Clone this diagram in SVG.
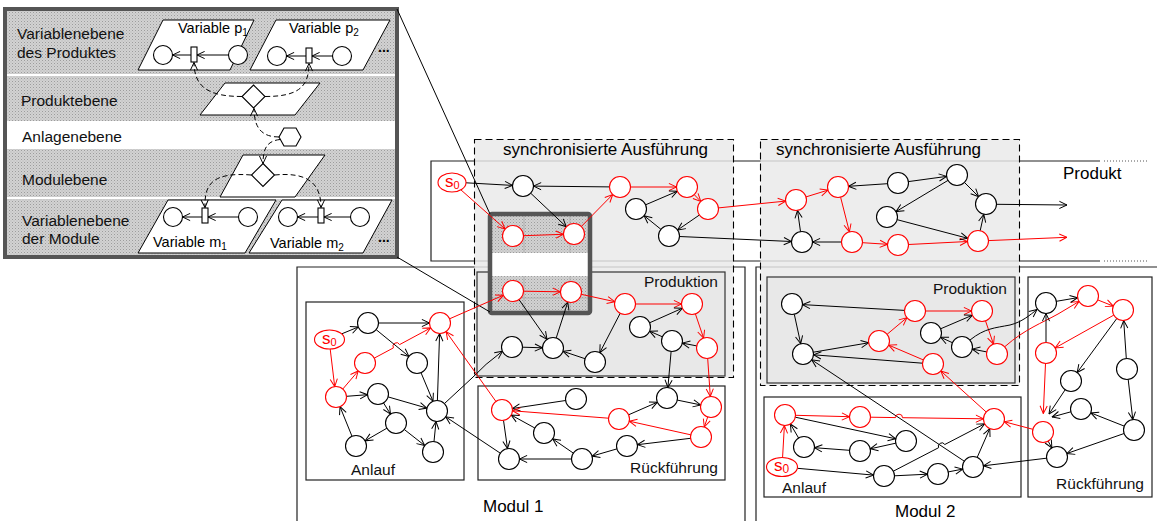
<svg xmlns="http://www.w3.org/2000/svg" width="1157" height="521" viewBox="0 0 1157 521">
<defs>
<style>
.k{fill:#fff;stroke:#000;stroke-width:1.1}
.r{fill:#fff;stroke:#f00;stroke-width:1.1}
.ek{fill:none;stroke:#000;stroke-width:1;marker-end:url(#ak)}
.er{fill:none;stroke:#f00;stroke-width:1;marker-end:url(#ar)}
.ed{fill:none;stroke:#000;stroke-width:1;stroke-dasharray:5,3;marker-end:url(#ak)}
.box{fill:#fff;stroke:#222;stroke-width:1.2}
.prod{fill:#e8e8e8;stroke:#333;stroke-width:1.2}
.sync{fill:#e9e9e9;fill-opacity:0.82;stroke:#000;stroke-width:1.1;stroke-dasharray:7,4}
.line{fill:none;stroke:#222;stroke-width:1.2}
.lbl{font-family:"Liberation Sans",Arial,sans-serif;font-size:15.5px;fill:#111}
.big{font-family:"Liberation Sans",Arial,sans-serif;font-size:17px;fill:#000}
.sm{font-family:"Liberation Sans",Arial,sans-serif;font-size:14.5px;fill:#000}
.s0{font-family:"Liberation Sans",Arial,sans-serif;font-size:17px;fill:#f00}
.para{fill:#fff;stroke:#000;stroke-width:1}
</style>
<marker id="ak" viewBox="0 0 10 10" refX="9.5" refY="5" markerWidth="9" markerHeight="9" orient="auto" markerUnits="userSpaceOnUse"><path d="M1,1 L9.5,5 L1,9" fill="none" stroke="#000" stroke-width="1.1"/></marker>
<marker id="ar" viewBox="0 0 10 10" refX="9.5" refY="5" markerWidth="9" markerHeight="9" orient="auto" markerUnits="userSpaceOnUse"><path d="M1,1 L9.5,5 L1,9" fill="none" stroke="#f00" stroke-width="1.1"/></marker>
<pattern id="dots" width="3" height="3" patternUnits="userSpaceOnUse"><rect width="3" height="3" fill="#d2d2d2"/><rect width="1" height="1" fill="#9c9c9c"/><rect x="1.5" y="1.5" width="1" height="1" fill="#b5b5b5"/></pattern>
</defs>

<!-- inset legend -->
<g id="inset">
<rect x="5" y="9" width="392" height="248" fill="url(#dots)"/>
<rect x="7" y="74" width="388" height="2" fill="#fff"/>
<rect x="7" y="121" width="388" height="28" fill="#fff"/>
<rect x="7" y="197" width="388" height="2" fill="#fff"/>
<text class="lbl" x="17" y="39">Variablenebene</text>
<text class="lbl" x="17" y="58">des Produktes</text>
<text class="lbl" x="21" y="106">Produktebene</text>
<text class="lbl" x="22" y="142">Anlagenebene</text>
<text class="lbl" x="22" y="185">Modulebene</text>
<text class="lbl" x="22" y="226">Variablenebene</text>
<text class="lbl" x="22" y="244">der Module</text>
<g id="var-p1">
<polygon class="para" points="163,20 254,20 230,70 138,70"/>
<text class="sm" x="178" y="33">Variable p<tspan font-size="10" dy="3">1</tspan></text>
<circle class="k" cx="163" cy="55" r="9.5"/>
<rect class="k" x="191" y="47" width="6" height="15"/>
<circle class="k" cx="238" cy="55" r="9.5"/>
<path class="ek" d="M228.5,55 L197,55"/>
<path class="ek" d="M191,55 L172.5,55"/>
</g>
<g id="var-p2">
<polygon class="para" points="276,20 390,20 363,70 250,70"/>
<text class="sm" x="289" y="33">Variable p<tspan font-size="10" dy="3">2</tspan></text>
<circle class="k" cx="277" cy="56" r="9.5"/>
<rect class="k" x="306" y="48" width="6" height="15"/>
<circle class="k" cx="342" cy="56" r="9.5"/>
<path class="ek" d="M332.5,56 L312,56"/>
<path class="ek" d="M306,56 L286.5,56"/>
</g>
<text x="378" y="51.5" font-family="Liberation Sans, Arial, sans-serif" font-size="14" font-weight="bold">...</text>
<g id="produktebene">
<polygon class="para" points="225,83 320,83 295,115 200,115"/>
<polygon class="k" points="253.5,85 265,96.5 253.5,108 242,96.5"/>
</g>
<g id="anlage">
<polygon class="k" points="284,128 296,128 301,137 296,146 284,146 279,137"/>
</g>
<g id="modulebene">
<polygon class="para" points="243,155 325,155 295,197 220,197"/>
<polygon class="k" points="263,163.5 274.5,175 263,186.5 251.5,175"/>
</g>
<g id="var-m1">
<polygon class="para" points="168,200 276,200 245,253 138,253"/>
<circle class="k" cx="173" cy="217" r="9.5"/>
<rect class="k" x="202" y="208" width="6" height="15"/>
<circle class="k" cx="248" cy="217" r="9.5"/>
<path class="ek" d="M238.5,217 L208,217"/>
<path class="ek" d="M202,217 L182.5,217"/>
<text class="sm" x="153" y="247">Variable m<tspan font-size="10" dy="3">1</tspan></text>
</g>
<g id="var-m2">
<polygon class="para" points="282,200 392,200 363,253 249,253"/>
<circle class="k" cx="288" cy="217" r="9.5"/>
<rect class="k" x="318" y="208" width="6" height="15"/>
<circle class="k" cx="360" cy="217" r="9.5"/>
<path class="ek" d="M350.5,217 L324,217"/>
<path class="ek" d="M318,217 L297.5,217"/>
<text class="sm" x="270" y="248">Variable m<tspan font-size="10" dy="3">2</tspan></text>
</g>
<text x="378" y="241.5" font-family="Liberation Sans, Arial, sans-serif" font-size="14" font-weight="bold">...</text>
<g id="inset-links">
<path class="ed" d="M242,96.5 C210,96.5 194,88 194,62.5"/>
<path class="ed" d="M265,96.5 C297,96.5 309,88 309,63.5"/>
<path class="ed" d="M279,137 C262,137 254,128 254,108.5"/>
<path class="ed" d="M280,139.5 C266,141 263,150 263,163.5"/>
<path class="ed" d="M251.5,175 C214,172 204,183 205,207.5"/>
<path class="ed" d="M274.5,175 C306,172 321,182 321,207.5"/>
</g>
<rect x="5" y="9" width="392" height="248" fill="none" stroke="#555" stroke-width="4"/>
</g>

<!-- frames -->
<g id="frames">
<path class="line" d="M1100,161 L431,161 L431,261 L1100,261"/>
<path d="M1104,161 H1147 M1104,261 H1147" stroke="#555" stroke-width="1" stroke-dasharray="1,2"/>
<text class="big" x="1063" y="179">Produkt</text>
<path class="line" d="M297,521 L297,267 L745,267 L745,521"/>
<path class="line" d="M756,521 L756,267 L1157,267"/>
<text class="big" x="483" y="512">Modul 1</text>
<text class="big" x="895" y="517">Modul 2</text>
</g>

<g id="sync1"><rect class="sync" x="474.5" y="139.5" width="259" height="238"/>
<text class="big" x="503" y="155">synchronisierte Ausführung</text></g>
<g id="sync2"><rect class="sync" x="760.5" y="139.5" width="259" height="246"/>
<text class="big" x="776" y="155">synchronisierte Ausführung</text></g>

<g id="produktion1"><rect class="prod" x="477" y="272" width="248" height="104"/>
<text class="lbl" x="718" y="287" text-anchor="end">Produktion</text></g>
<g id="produktion2"><rect class="prod" x="767" y="277" width="248" height="106"/>
<text class="lbl" x="1007" y="294" text-anchor="end">Produktion</text></g>
<g id="anlauf1"><rect class="box" x="306" y="302" width="158" height="178"/>
<text class="lbl" x="351" y="475">Anlauf</text></g>
<g id="rueck1"><rect class="box" x="478" y="386" width="247" height="94"/>
<text class="lbl" x="718" y="473" text-anchor="end">Rückführung</text></g>
<g id="anlauf2"><rect class="box" x="764" y="397" width="257" height="100"/>
<text class="lbl" x="782" y="493">Anlauf</text></g>
<g id="rueck2"><rect class="box" x="1028" y="277" width="124" height="220"/>
<text class="lbl" x="1144" y="489" text-anchor="end">Rückführung</text></g>

<!-- magnifier -->
<g id="magnifier">
<rect x="490" y="214" width="100" height="39" fill="url(#dots)"/>
<rect x="490" y="253" width="100" height="23" fill="#fff"/>
<rect x="490" y="276" width="100" height="37" fill="url(#dots)"/>
<path d="M524,216 V253 M570,216 V253 M524,276 V311 M570,276 V311 M492,298 H588" stroke="#aaa" stroke-width="0.8" fill="none"/>
<rect x="490" y="214" width="100" height="99" rx="2" fill="none" stroke="#555" stroke-width="4.5"/>
<path d="M397,9 L490,214 M397,257 L490,312" stroke="#000" stroke-width="1" fill="none"/>
</g>

<g id="connectors">
<path class="ek" d="M466,182.8 L512.5,185.4"/>
<path class="ek" d="M609.5,186.9 L533.5,186.1"/>
<path class="ek" d="M530.7,193.2 L566.3,226.8"/>
<path class="er" d="M460.5,189.5 L505.1,229"/>
<path class="er" d="M523.5,235.7 L563.5,234.3"/>
<path class="er" d="M581.3,226.5 L612.7,194.5"/>
<path class="er" d="M630.5,187 L676.5,187"/>
<path class="er" d="M694.2,194.6 L700.8,201.4"/>
<path class="ek" d="M645.6,204.8 L677.4,191.2"/>
<path class="ek" d="M699.4,215 L677.6,230"/>
<path class="ek" d="M660.9,229.3 L644.1,215.7"/>
<path class="er" d="M718.4,207.9 L785.6,201.1"/>
<path class="ek" d="M679.5,236.5 L791.5,241.5"/>
<path class="ek" d="M800.5,231.6 L797.5,210.4"/>
<path class="er" d="M806,196.9 L828,190.1"/>
<path class="ek" d="M887.5,183.7 L848.5,186.3"/>
<path class="ek" d="M908.4,181.6 L946.6,176.4"/>
<path class="ek" d="M964.4,182.4 L978.6,196.6"/>
<path class="ek" d="M948,180.4 L896,211.6"/>
<path class="er" d="M840.6,197.2 L849.4,231.8"/>
<path class="ek" d="M841.5,242 L812.5,242"/>
<path class="er" d="M862.5,242.7 L887.5,244.3"/>
<path class="er" d="M908.5,244.5 L967.5,241.5"/>
<path class="ek" d="M897.2,219.7 L967.8,238.3"/>
<path class="ek" d="M980.2,230.7 L983.8,214.3"/>
<path class="ek" d="M996.5,204.3 L1067,205"/>
<path class="er" d="M988.5,240.6 L1067,237.3"/>

<path class="er" d="M449.6,318.8 L503.4,295.2"/>
<path class="er" d="M523.5,291.2 L560.5,291.8"/>
<path class="er" d="M581.2,294.3 L614.8,301.7"/>
<path class="er" d="M635.5,304 L681.5,304"/>
<path class="er" d="M695.4,313.9 L703.6,338.1"/>
<path class="ek" d="M649.6,322.8 L682.4,308.2"/>
<path class="ek" d="M662.4,336.8 L649.6,331.2"/>
<path class="ek" d="M696.7,345.9 L682.3,343.1"/>
<path class="ek" d="M519,299.6 L547,339.4"/>
<path class="ek" d="M556.2,338 L567.8,302"/>
<path class="ek" d="M522.5,347.2 L542.5,347.8"/>
<path class="ek" d="M585,358.7 L563,351.3"/>
<path class="ek" d="M620.2,313.3 L599.8,352.7"/>
<path class="ek" d="M671.1,351.5 L667.9,387.5"/>
<path class="er" d="M707.7,358.5 L710.3,396.5"/>
<path class="ek" d="M444.5,403.5 L472,378 Q485,364 502.5,351.2"/>

<path class="ek" d="M341.8,333.8 L358.3,327"/>
<path class="er" d="M330.2,349 L334.7,386.6"/>
<path class="er" d="M342.8,389 L358.2,371"/>
<path class="er" d="M374.3,358.1 L393.4,347.9 A3.5,3.5 0 0 1 399.6,344.6 L430.7,327.9"/>
<path class="ek" d="M378.5,323 L429.5,323"/>
<path class="ek" d="M376.1,329.6 L408.9,356.4"/>
<path class="ek" d="M421,372.7 L433,401.3"/>
<path class="ek" d="M437.4,400.5 L439.6,333.5"/>
<path class="ek" d="M346.5,396.3 L367.5,394.7"/>
<path class="ek" d="M388.1,396.9 L426.9,408.1"/>
<path class="ek" d="M383.5,402.9 L390.5,414.1"/>
<path class="ek" d="M386.9,428.2 L365.1,440.8"/>
<path class="ek" d="M352,436.3 L340,406.7"/>
<path class="ek" d="M404.3,429.5 L424.7,445.5"/>
<path class="ek" d="M434,441.5 L436,421.5"/>
<path class="er" d="M495.9,401.4 L446.1,331.6"/>
<path class="ek" d="M500.3,453.2 L445.7,416.8"/>

<path class="ek" d="M565.6,400.5 L512.4,408.5"/>
<path class="er" d="M608.5,418.2 L512.5,410.8"/>
<path class="er" d="M690.7,434.8 L629.3,421.2"/>
<path class="ek" d="M628.6,414.8 L657.4,402.2"/>
<path class="ek" d="M677.3,400.1 L700.7,404.9"/>
<path class="er" d="M707.7,417 L704.3,427"/>
<path class="ek" d="M690.6,438.3 L637.4,444.7"/>
<path class="ek" d="M616.9,448.9 L592.1,456.1"/>
<path class="ek" d="M573.3,453.1 L552.7,438.9"/>
<path class="ek" d="M534.8,428 L511.2,415"/>
<path class="ek" d="M571.5,459 L519.5,459"/>
<path class="ek" d="M503.5,420.4 L507.5,448.6"/>

<path class="ek" d="M904.5,310.4 L802.5,304.6"/>
<path class="ek" d="M794.3,314.3 L800.7,343.7"/>
<path class="er" d="M925.5,311 L971.5,311"/>
<path class="er" d="M887.1,334.3 L906.9,317.7"/>
<path class="ek" d="M813.4,352.2 L868.6,342.8"/>
<path class="ek" d="M922.5,363.2 L813.5,354.8"/>
<path class="er" d="M923.3,359.9 L888.7,345.1"/>
<path class="ek" d="M940.6,328.8 L972.4,315.2"/>
<path class="er" d="M985.5,320.9 L993.5,344.1"/>
<path class="ek" d="M986.7,351.9 L972.3,349.1"/>
<path class="ek" d="M952.4,342.7 L940.6,337.3"/>
<path class="ek" d="M970,340 C985,328 995,328 1010,325 C1022,322 1030,315 1037,309.5"/>
<path class="er" d="M1005,346.5 C1025,329 1042,323 1058,314 L1079,301.5"/>
<path class="er" d="M986.2,412 L940.8,371"/>
<path class="ek" d="M964.3,461.2 L811.7,359.8"/>

<path class="er" d="M782.6,457 L784.4,425.5"/>
<path class="er" d="M795.5,415.3 L849.5,416.7"/>
<path class="er" d="M870.5,417.2 L895.5,417.6 A3.5,3.5 0 0 1 902.5,417.7 L983.5,418.8"/>
<path class="ek" d="M795.3,417.2 L895.7,438.8"/>
<path class="ek" d="M895.7,443.2 L870.3,448.8"/>
<path class="ek" d="M849.5,450.3 L814.5,447.7"/>
<path class="ek" d="M798.6,438 L790.4,424"/>
<path class="ek" d="M797.5,468.3 L873.5,475.1"/>
<path class="ek" d="M894.5,475.8 L927.5,474.2"/>
<path class="ek" d="M948.3,471.9 L962.7,469.1"/>
<path class="ek" d="M893.3,471.2 L938.6,447.7 A3.5,3.5 0 0 1 944.8,444.5 L984.7,423.8"/>
<path class="ek" d="M977.2,457.4 L989.8,428.6"/>
<path class="ek" d="M1046.6,458.2 L983.4,465.8"/>
<path class="er" d="M1032.9,429.3 L1004.1,421.7"/>

<path class="ek" d="M1056.4,301.3 L1077.6,297.7"/>
<path class="er" d="M1097.7,299.9 L1113.3,306.1"/>
<path class="er" d="M1113.8,315.1 L1055.2,347.9"/>
<path class="ek" d="M1046,342.5 L1046,313.5"/>
<path class="ek" d="M1116.8,318.5 L1077.2,372.5"/>
<path class="ek" d="M1126.3,358.5 L1123.7,320.5"/>
<path class="ek" d="M1128.2,379.4 L1132.8,419.6"/>
<path class="ek" d="M1124.2,426.1 L1090.8,412.9"/>
<path class="ek" d="M1065.2,389.7 L1049,414"/>
<path class="ek" d="M1070.9,411.8 L1052,417"/>
<path class="er" d="M1045.5,363.5 L1043.3,413.5"/>
<path class="ek" d="M1048.1,441.1 L1051.9,447.9"/>
<path class="ek" d="M1124.1,433.5 L1066.9,453.5"/>
</g>

<!-- nodes: product -->
<g id="p-s0"><ellipse class="r" cx="452" cy="182.5" rx="14" ry="9.5"/><text class="s0" x="445" y="187">s<tspan font-size="11" dy="2">0</tspan></text></g>
<g id="p-n1"><circle class="k" cx="523" cy="186" r="10.5"/></g>
<g id="p-n2"><circle class="r" cx="620" cy="187" r="10.5"/></g>
<g id="p-n3"><circle class="r" cx="687" cy="187" r="10.5"/></g>
<g id="p-n4"><circle class="r" cx="708" cy="209" r="10.5"/></g>
<g id="p-n5"><circle class="k" cx="636" cy="209" r="10.5"/></g>
<g id="p-n6"><circle class="k" cx="669" cy="236" r="10.5"/></g>
<g id="p-n7"><circle class="r" cx="513" cy="236" r="10.5"/></g>
<g id="p-n8"><circle class="r" cx="574" cy="234" r="10.5"/></g>
<g id="p-m1"><circle class="r" cx="796" cy="200" r="10.5"/></g>
<g id="p-m2"><circle class="r" cx="838" cy="187" r="10.5"/></g>
<g id="p-m3"><circle class="k" cx="898" cy="183" r="10.5"/></g>
<g id="p-m4"><circle class="k" cx="957" cy="175" r="10.5"/></g>
<g id="p-m5"><circle class="k" cx="986" cy="204" r="10.5"/></g>
<g id="p-m6"><circle class="k" cx="887" cy="217" r="10.5"/></g>
<g id="p-m7"><circle class="k" cx="802" cy="242" r="10.5"/></g>
<g id="p-m8"><circle class="r" cx="852" cy="242" r="10.5"/></g>
<g id="p-m9"><circle class="r" cx="898" cy="245" r="10.5"/></g>
<g id="p-m10"><circle class="r" cx="978" cy="241" r="10.5"/></g>

<!-- nodes: Modul 1 Produktion -->
<g id="m1p-1"><circle class="r" cx="513" cy="291" r="10.5"/></g>
<g id="m1p-2"><circle class="r" cx="571" cy="292" r="10.5"/></g>
<g id="m1p-3"><circle class="r" cx="625" cy="304" r="10.5"/></g>
<g id="m1p-4"><circle class="r" cx="692" cy="304" r="10.5"/></g>
<g id="m1p-5"><circle class="r" cx="707" cy="348" r="10.5"/></g>
<g id="m1p-6"><circle class="k" cx="640" cy="327" r="10.5"/></g>
<g id="m1p-7"><circle class="k" cx="672" cy="341" r="10.5"/></g>
<g id="m1p-8"><circle class="k" cx="512" cy="347" r="10.5"/></g>
<g id="m1p-9"><circle class="k" cx="553" cy="348" r="10.5"/></g>
<g id="m1p-10"><circle class="k" cx="595" cy="362" r="10.5"/></g>

<!-- nodes: Modul 1 Anlauf -->
<g id="m1a-s0"><ellipse class="r" cx="329.5" cy="339.5" rx="15" ry="9.5"/><text class="s0" x="322" y="344">s<tspan font-size="11" dy="2">0</tspan></text></g>
<g id="m1a-1"><circle class="k" cx="368" cy="323" r="10.5"/></g>
<g id="m1a-2"><circle class="r" cx="440" cy="323" r="10.5"/></g>
<g id="m1a-3"><circle class="r" cx="365" cy="363" r="10.5"/></g>
<g id="m1a-4"><circle class="k" cx="417" cy="363" r="10.5"/></g>
<g id="m1a-5"><circle class="r" cx="336" cy="397" r="10.5"/></g>
<g id="m1a-6"><circle class="k" cx="378" cy="394" r="10.5"/></g>
<g id="m1a-7"><circle class="k" cx="437" cy="411" r="10.5"/></g>
<g id="m1a-8"><circle class="k" cx="396" cy="423" r="10.5"/></g>
<g id="m1a-9"><circle class="k" cx="356" cy="446" r="10.5"/></g>
<g id="m1a-10"><circle class="k" cx="433" cy="452" r="10.5"/></g>

<!-- nodes: Modul 1 Rueckfuehrung -->
<g id="m1r-1"><circle class="r" cx="502" cy="410" r="10.5"/></g>
<g id="m1r-2"><circle class="k" cx="576" cy="399" r="10.5"/></g>
<g id="m1r-3"><circle class="k" cx="667" cy="398" r="10.5"/></g>
<g id="m1r-4"><circle class="r" cx="711" cy="407" r="10.5"/></g>
<g id="m1r-5"><circle class="r" cx="619" cy="419" r="10.5"/></g>
<g id="m1r-6"><circle class="r" cx="701" cy="437" r="10.5"/></g>
<g id="m1r-7"><circle class="k" cx="544" cy="433" r="10.5"/></g>
<g id="m1r-8"><circle class="k" cx="627" cy="446" r="10.5"/></g>
<g id="m1r-9"><circle class="k" cx="509" cy="459" r="10.5"/></g>
<g id="m1r-10"><circle class="k" cx="582" cy="459" r="10.5"/></g>

<!-- nodes: Modul 2 Produktion -->
<g id="m2p-1"><circle class="k" cx="792" cy="304" r="10.5"/></g>
<g id="m2p-2"><circle class="r" cx="915" cy="311" r="10.5"/></g>
<g id="m2p-3"><circle class="r" cx="982" cy="311" r="10.5"/></g>
<g id="m2p-4"><circle class="k" cx="931" cy="333" r="10.5"/></g>
<g id="m2p-5"><circle class="k" cx="962" cy="347" r="10.5"/></g>
<g id="m2p-6"><circle class="r" cx="997" cy="354" r="10.5"/></g>
<g id="m2p-7"><circle class="r" cx="879" cy="341" r="10.5"/></g>
<g id="m2p-8"><circle class="k" cx="803" cy="354" r="10.5"/></g>
<g id="m2p-9"><circle class="r" cx="933" cy="364" r="10.5"/></g>

<!-- nodes: Modul 2 Anlauf -->
<g id="m2a-s0"><ellipse class="r" cx="782" cy="467" rx="15.5" ry="9.5"/><text class="s0" x="774" y="471">s<tspan font-size="12" dy="2">0</tspan></text></g>
<g id="m2a-1"><circle class="r" cx="785" cy="415" r="10.5"/></g>
<g id="m2a-2"><circle class="r" cx="860" cy="417" r="10.5"/></g>
<g id="m2a-3"><circle class="r" cx="994" cy="419" r="10.5"/></g>
<g id="m2a-4"><circle class="k" cx="804" cy="447" r="10.5"/></g>
<g id="m2a-5"><circle class="k" cx="860" cy="451" r="10.5"/></g>
<g id="m2a-6"><circle class="k" cx="906" cy="441" r="10.5"/></g>
<g id="m2a-7"><circle class="k" cx="884" cy="476" r="10.5"/></g>
<g id="m2a-8"><circle class="k" cx="938" cy="474" r="10.5"/></g>
<g id="m2a-9"><circle class="k" cx="973" cy="467" r="10.5"/></g>

<!-- nodes: Modul 2 Rueckfuehrung -->
<g id="m2r-1"><circle class="k" cx="1046" cy="303" r="10.5"/></g>
<g id="m2r-2"><circle class="r" cx="1088" cy="296" r="10.5"/></g>
<g id="m2r-3"><circle class="r" cx="1123" cy="310" r="10.5"/></g>
<g id="m2r-4"><circle class="r" cx="1046" cy="353" r="10.5"/></g>
<g id="m2r-5"><circle class="k" cx="1127" cy="369" r="10.5"/></g>
<g id="m2r-6"><circle class="k" cx="1071" cy="381" r="10.5"/></g>
<g id="m2r-7"><circle class="k" cx="1081" cy="409" r="10.5"/></g>
<g id="m2r-8"><circle class="k" cx="1134" cy="430" r="10.5"/></g>
<g id="m2r-9"><circle class="r" cx="1043" cy="432" r="10.5"/></g>
<g id="m2r-10"><circle class="k" cx="1057" cy="457" r="10.5"/></g>
</svg>
